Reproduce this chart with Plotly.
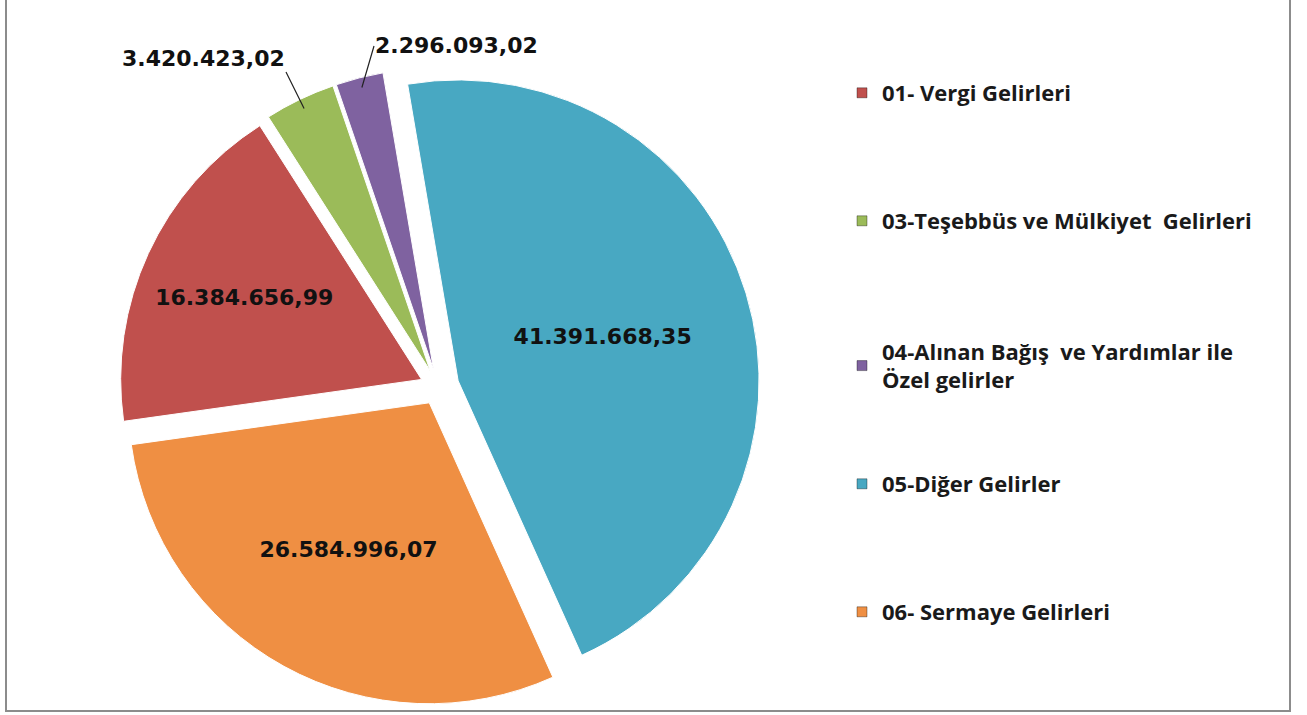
import math
import plotly.graph_objects as go

# ---- data ----
categories = [
    "01- Vergi Gelirleri",
    "03-Teşebbüs ve Mülkiyet  Gelirleri",
    "04-Alınan Bağış  ve Yardımlar ile<br>Özel gelirler",
    "05-Diğer Gelirler",
    "06- Sermaye Gelirleri",
]
values = [16384656.99, 3420423.02, 2296093.02, 41391668.35, 26584996.07]
colors = ["#C0504D", "#9BBB59", "#7F62A0", "#48A8C2", "#EF8F43"]
text_positions = ["inside", "none", "none", "inside", "inside"]
pulls = [0.06, 0.06, 0.06, 0.07, 0.06]

W, H = 1307, 715
ROT = 262

# pie box (pixels)
cx, cy, half = 438, 387, 322
dom_x = [(cx - half) / W, (cx + half) / W]
dom_y = [1 - (cy + half) / H, 1 - (cy - half) / H]
r_pie = (2 * half) / (2 + 2 * max(pulls))


def fmt_tr(v):
    s = f"{v:,.2f}"
    return s.replace(",", "X").replace(".", ",").replace("X", ".")


fig = go.Figure()
fig.add_trace(go.Pie(
    labels=categories,
    values=values,
    sort=False,
    direction="clockwise",
    rotation=ROT,
    pull=pulls,
    marker=dict(colors=colors, line=dict(color="white", width=1)),
    textposition=text_positions,
    texttemplate="%{value:,.2f}",
    insidetextorientation="horizontal",
    textfont=dict(family="DejaVu Sans", size=22, color="#111111", weight="bold"),
    domain=dict(x=dom_x, y=dom_y),
    showlegend=False,
    hovertemplate="%{label}: %{value:,.2f}<extra></extra>",
))

# outside labels (with leader lines) for the two small slices
total = sum(values)
cum = 0.0
mids = []
for v in values:
    mids.append(ROT + 360 * (cum + v / 2) / total)
    cum += v
label_tails = {1: (286, 72, "right", "bottom"), 2: (374, 46, "left", "middle")}
annotations = []
for i, (tx, ty, xa, ya) in label_tails.items():
    a = math.radians(mids[i])
    d = r_pie * (1 + pulls[i]) - 10
    hx = cx + d * math.sin(a)
    hy = cy - d * math.cos(a)
    annotations.append(dict(
        x=hx / W, y=1 - hy / H, xref="paper", yref="paper",
        text=fmt_tr(values[i]), showarrow=True, arrowhead=0, arrowwidth=1.2,
        arrowcolor="#222222", ax=tx - hx, ay=ty - hy,
        xanchor=xa, yanchor=ya, borderpad=0,
        font=dict(family="DejaVu Sans", size=22, color="#111111", weight="bold"),
    ))

legend_rows = [93, 221, 366, 484, 612]
layout_legends = {}
for i, (name, col) in enumerate(zip(categories, colors)):
    lname = "legend" if i == 0 else f"legend{i + 1}"
    fig.add_trace(go.Scatter(
        x=[None], y=[None], mode="markers", name=name,
        marker=dict(symbol="square", size=10, color=col,
                    line=dict(color="rgba(0,0,0,0.35)", width=1)),
        legend=lname, showlegend=True, hoverinfo="skip",
    ))
    layout_legends[lname] = dict(
        x=842 / W, xanchor="left",
        y=1 - legend_rows[i] / H, yanchor="middle",
        bgcolor="rgba(0,0,0,0)", borderwidth=0,
        font=dict(family="Open Sans", size=22, color="#1a1a1a", weight="bold"),
        itemwidth=30,
    )

fig.update_layout(
    width=W, height=H,
    margin=dict(l=0, r=0, t=0, b=0, autoexpand=False),
    paper_bgcolor="white", plot_bgcolor="white",
    separators=",.",
    xaxis=dict(visible=False), yaxis=dict(visible=False),
    shapes=[dict(type="rect", xref="paper", yref="paper",
                 x0=6 / W, x1=1290 / W, y0=1 - 711 / H, y1=1 + 5 / H,
                 line=dict(color="#8c8c8c", width=2), fillcolor="rgba(0,0,0,0)")],
    annotations=annotations,
    **layout_legends,
)

fig.write_html(
    "out.html",
    config={"displayModeBar": False},
    post_script="document.body.style.margin='0';document.body.style.padding='0';"
                "document.documentElement.style.overflow='hidden';",
)
